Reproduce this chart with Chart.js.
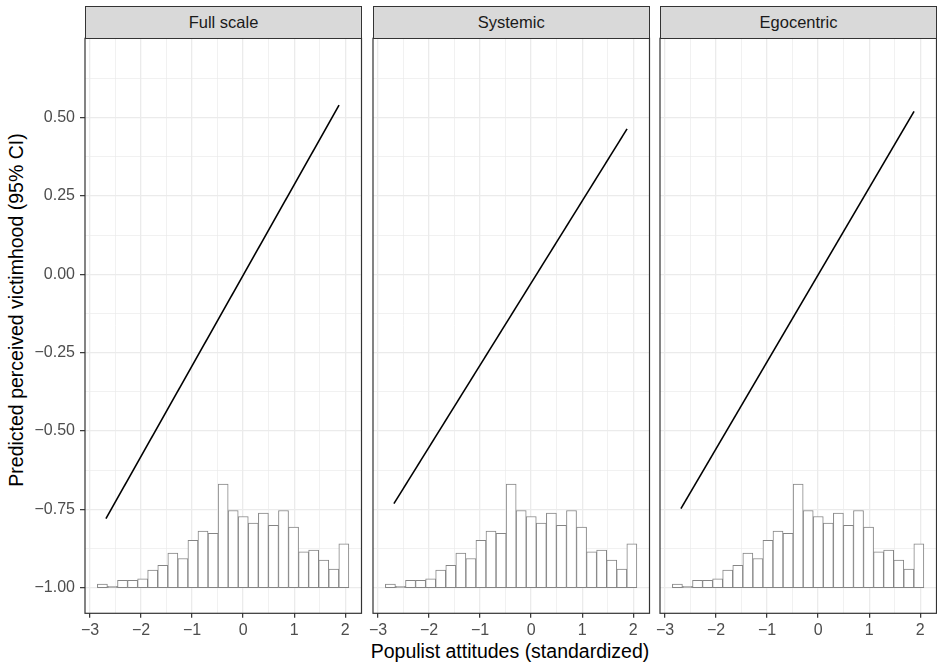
<!DOCTYPE html>
<html>
<head>
<meta charset="utf-8">
<script src="https://cdn.jsdelivr.net/npm/chart.js@4"></script>
<style>
  html, body { margin: 0; padding: 0; background: #fff; overflow: hidden; }
  body { width: 937px; height: 668px; position: relative; font-family: "Liberation Sans", Arial, sans-serif; }
  canvas { position: absolute; }
  .strip {
    position: absolute; top: 6px; height: 33px; box-sizing: border-box;
    background: #D9D9D9; border: 1.2px solid #333;
    color: #1A1A1A; font-size: 16.5px; text-align: center; line-height: 31px;
  }
  .ytitle {
    position: absolute; left: 16px; top: 310px; width: 480px; height: 24px;
    margin-left: -240px; margin-top: -12px; line-height: 24px;
    transform: rotate(-90deg); text-align: center; font-size: 19.5px; color: #000;
  }
  .xtitle {
    position: absolute; left: 310px; width: 400px; top: 639px; height: 24px;
    line-height: 24px; text-align: center; font-size: 19.5px; color: #000;
  }
</style>
</head>
<body>
<div class="ytitle">Predicted perceived victimhood (95% CI)</div>
<div class="xtitle">Populist attitudes (standardized)</div>

<script>
// facet panels
var panelNames = ['Full scale', 'Systemic', 'Egocentric'];

// histogram of populist attitudes (bin centres and bar tops)
var binCenters = [-2.759, -2.561, -2.364, -2.167, -1.970, -1.773, -1.575, -1.378, -1.181,
                  -0.984, -0.787, -0.589, -0.392, -0.195, 0.002, 0.199, 0.397, 0.594,
                  0.791, 0.988, 1.185, 1.382, 1.580, 1.777, 1.974];
var binTops = [-0.989, -0.996, -0.977, -0.977, -0.972, -0.944, -0.929, -0.890, -0.907,
               -0.849, -0.820, -0.827, -0.670, -0.754, -0.773, -0.794, -0.762, -0.801,
               -0.754, -0.807, -0.886, -0.880, -0.912, -0.941, -0.860];
var binBase = -1.0;

// predicted lines
var lineX = [-2.69, 1.88];
var fullScale = [-0.780, 0.540];
var systemic = [-0.732, 0.464];
var egocentric = [-0.748, 0.520];
var lineSeries = [fullScale, systemic, egocentric];

// axis breaks (major + minor)
var xTicks = [-3, -2.5, -2, -1.5, -1, -0.5, 0, 0.5, 1, 1.5, 2];
var yTicks = [-1, -0.875, -0.75, -0.625, -0.5, -0.375, -0.25, -0.125, 0, 0.125, 0.25, 0.375, 0.5, 0.625];

var panelLefts = [85, 372.7, 660];
var panelWidth = 276.5;
var fontFam = '"Liberation Sans", Arial, sans-serif';

function minus(s) { return String(s).replace('-', '\u2212'); }
function isMajorX(v) { return Math.abs(v - Math.round(v)) < 1e-9; }
function isMajorY(v) { return Math.abs(v * 4 - Math.round(v * 4)) < 1e-9; }

var framePlugin = {
  id: 'frame',
  afterDraw: function(chart) {
    var a = chart.chartArea, c = chart.ctx;
    c.save();
    c.strokeStyle = '#333';
    c.lineWidth = 1.2;
    c.strokeRect(a.left, a.top, a.right - a.left, a.bottom - a.top);
    c.restore();
  }
};

panelNames.forEach(function(name, i) {
  var first = i === 0;
  var yW = first ? 85 : 10;
  var canvas = document.createElement('canvas');
  var w = yW + panelWidth + 3;
  canvas.width = Math.ceil(w);
  canvas.height = 638;
  canvas.style.left = (panelLefts[i] - yW) + 'px';
  canvas.style.top = '30px';
  document.body.appendChild(canvas);

  var strip = document.createElement('div');
  strip.className = 'strip';
  strip.style.left = panelLefts[i] + 'px';
  strip.style.width = (panelWidth + 0.6) + 'px';
  strip.textContent = name;
  document.body.appendChild(strip);

  var bars = binCenters.map(function(c, k) { return { x: c, y: [binBase, binTops[k]] }; });
  var line = lineX.map(function(x, k) { return { x: x, y: lineSeries[i][k] }; });

  new Chart(canvas.getContext('2d'), {
    type: 'bar',
    data: {
      datasets: [{
        type: 'line',
        data: line,
        borderColor: '#000',
        borderWidth: 1.6,
        pointRadius: 0,
        fill: false,
        order: 0
      }, {
        type: 'bar',
        data: bars,
        backgroundColor: '#fff',
        borderColor: '#858585',
        borderWidth: 1,
        borderSkipped: false,
        barPercentage: 1,
        categoryPercentage: 1,
        order: 1
      }]
    },
    plugins: [framePlugin],
    options: {
      responsive: false,
      animation: false,
      devicePixelRatio: 1,
      layout: {
        autoPadding: false,
        padding: { top: 8.3, right: canvas.width - yW - panelWidth, left: 0, bottom: 0 }
      },
      plugins: { legend: { display: false }, tooltip: { enabled: false } },
      scales: {
        x: {
          type: 'linear',
          min: -3.1,
          max: 2.32,
          offset: false,
          afterBuildTicks: function(s) { s.ticks = xTicks.map(function(v) { return { value: v }; }); },
          afterFit: function(s) { s.height = 54.7; s.paddingLeft = 0; s.paddingRight = 0; },
          border: { display: false },
          grid: {
            offset: false,
            color: '#EBEBEB',
            lineWidth: function(ctx) { return ctx.tick && isMajorX(ctx.tick.value) ? 1.3 : 0.7; },
            drawTicks: true,
            tickLength: 4.5,
            tickWidth: 1.2,
            tickColor: function(ctx) { return ctx.tick && isMajorX(ctx.tick.value) ? '#333' : 'rgba(0,0,0,0)'; }
          },
          ticks: {
            autoSkip: false,
            maxRotation: 0,
            padding: 3,
            color: '#4D4D4D',
            font: { family: fontFam, size: 16 },
            callback: function(v) { return isMajorX(v) ? minus(v) : ''; }
          }
        },
        y: {
          type: 'linear',
          min: -1.082,
          max: 0.753,
          afterBuildTicks: function(s) { s.ticks = yTicks.map(function(v) { return { value: v }; }); },
          afterFit: function(s) { s.width = yW; s.paddingTop = 0; s.paddingBottom = 0; },
          border: { display: false },
          grid: {
            color: '#EBEBEB',
            lineWidth: function(ctx) { return ctx.tick && isMajorY(ctx.tick.value) ? 1.3 : 0.7; },
            drawTicks: first,
            tickLength: 5,
            tickWidth: 1.2,
            tickColor: function(ctx) { return ctx.tick && isMajorY(ctx.tick.value) ? '#333' : 'rgba(0,0,0,0)'; }
          },
          ticks: {
            display: first,
            autoSkip: false,
            padding: 5,
            color: '#4D4D4D',
            font: { family: fontFam, size: 16 },
            callback: function(v) { return isMajorY(v) ? minus(v.toFixed(2)) : ''; }
          }
        }
      }
    }
  });
});
</script>
</body>
</html>
